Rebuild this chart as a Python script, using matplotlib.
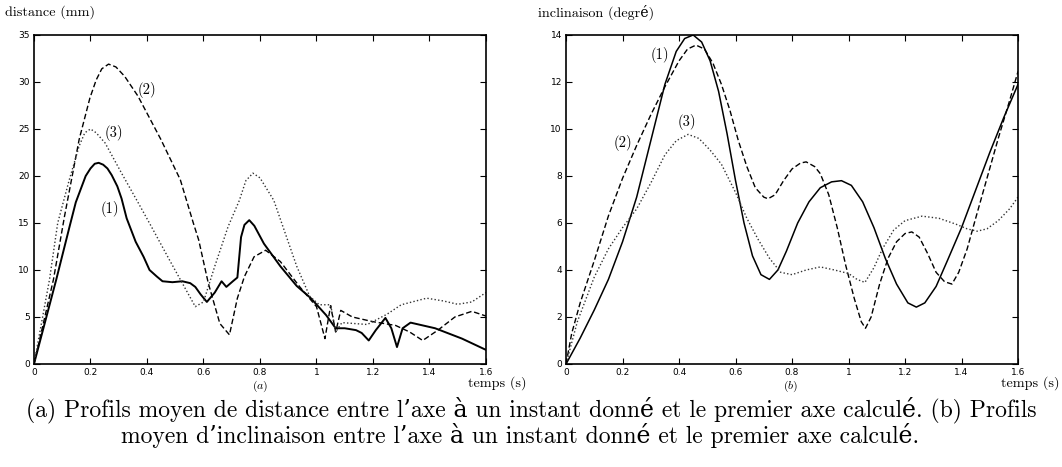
import matplotlib
matplotlib.use('Agg')
import matplotlib.pyplot as plt

plt.rcParams['mathtext.fontset'] = 'cm'

# (a) distance profiles (mm)
dist_x1 = [0, 0.079, 0.125, 0.148, 0.183, 0.2, 0.215, 0.229, 0.245, 0.26, 0.275, 0.295, 0.31, 0.328,
           0.36, 0.388, 0.409, 0.435, 0.455, 0.49, 0.525, 0.553, 0.571, 0.59, 0.612, 0.64, 0.664,
           0.681, 0.704, 0.72, 0.733, 0.745, 0.762, 0.78, 0.814, 0.872, 0.93, 0.98, 1.034, 1.068,
           1.10, 1.14, 1.16, 1.185, 1.21, 1.244, 1.265, 1.285, 1.305, 1.333, 1.42, 1.515, 1.6]
dist_y1 = [0, 9.0, 14.5, 17.2, 20.0, 20.8, 21.3, 21.4, 21.2, 20.8, 20.1, 18.9, 17.6, 15.5,
           13.0, 11.4, 10.0, 9.3, 8.8, 8.7, 8.8, 8.6, 8.2, 7.4, 6.6, 7.6, 8.8,
           8.2, 8.8, 9.2, 13.5, 14.8, 15.3, 14.7, 12.8, 10.4, 8.3, 7.0, 5.2, 3.8,
           3.8, 3.6, 3.3, 2.5, 3.6, 4.9, 3.8, 1.8, 3.8, 4.4, 3.8, 2.7, 1.5]

dist_x2 = [0, 0.069, 0.108, 0.16, 0.198, 0.22, 0.24, 0.264, 0.29, 0.321, 0.368, 0.449, 0.518,
           0.564, 0.583, 0.617, 0.658, 0.692, 0.72, 0.745, 0.779, 0.82, 0.872, 0.941, 1.0, 1.03,
           1.05, 1.068, 1.086, 1.127, 1.2, 1.28, 1.33, 1.376, 1.43, 1.49, 1.55, 1.6]
dist_y2 = [0, 9.0, 15.7, 23.9, 28.3, 30.2, 31.4, 31.9, 31.6, 30.6, 28.5, 23.9, 19.6,
           15.0, 13.2, 8.6, 4.3, 3.1, 7.0, 9.3, 11.4, 12.1, 10.9, 8.2, 6.1, 2.7,
           6.2, 3.4, 5.7, 5.0, 4.5, 4.1, 3.4, 2.5, 3.6, 5.0, 5.6, 5.1]

dist_x3 = [0, 0.055, 0.084, 0.125, 0.16, 0.18, 0.2, 0.22, 0.252, 0.31, 0.368, 0.414, 0.479, 0.525,
           0.571, 0.6, 0.64, 0.687, 0.727, 0.75, 0.775, 0.8, 0.849, 0.93, 0.976, 1.01, 1.05, 1.068,
           1.09, 1.18, 1.25, 1.3, 1.39, 1.45, 1.5, 1.55, 1.6]
dist_y3 = [0, 9.0, 15.0, 19.6, 23.2, 24.6, 25.0, 24.6, 23.5, 20.3, 17.2, 14.7, 11.1, 8.6,
           6.1, 6.6, 10.4, 14.6, 17.4, 19.5, 20.3, 19.8, 17.4, 10.4, 7.2, 6.3, 6.3, 3.4,
           4.4, 4.2, 5.3, 6.3, 7.0, 6.7, 6.35, 6.6, 7.6]

# (b) inclination profiles (degrees)
incl_x1 = [0, 0.05, 0.1, 0.15, 0.2, 0.25, 0.3, 0.35, 0.39, 0.42, 0.45, 0.48, 0.51, 0.54, 0.57,
           0.6, 0.63, 0.66, 0.69, 0.72, 0.75, 0.78, 0.82, 0.86, 0.9, 0.94, 0.975, 1.01, 1.05,
           1.09, 1.13, 1.17, 1.21, 1.24, 1.27, 1.31, 1.35, 1.4, 1.45, 1.5, 1.55, 1.6]
incl_y1 = [0, 1.1, 2.3, 3.6, 5.2, 7.1, 9.5, 11.9, 13.3, 13.85, 14.0, 13.7, 12.9, 11.6, 9.8,
           7.8, 6.0, 4.6, 3.8, 3.6, 4.0, 4.8, 6.0, 6.9, 7.5, 7.75, 7.8, 7.6, 6.9,
           5.8, 4.5, 3.4, 2.6, 2.42, 2.6, 3.3, 4.4, 5.8, 7.4, 9.0, 10.5, 11.9]

incl_x2 = [0, 0.02, 0.05, 0.1, 0.15, 0.2, 0.25, 0.3, 0.35, 0.4, 0.43, 0.46, 0.49, 0.52, 0.55,
           0.58, 0.61, 0.64, 0.67, 0.7, 0.715, 0.74, 0.77, 0.8, 0.83, 0.85, 0.88, 0.9, 0.93,
           0.96, 0.99, 1.02, 1.045, 1.06, 1.08, 1.11, 1.14, 1.17, 1.2, 1.224, 1.25, 1.28, 1.31,
           1.34, 1.366, 1.39, 1.42, 1.45, 1.49, 1.53, 1.57, 1.6]
incl_y2 = [0, 1.3, 2.6, 4.4, 6.3, 7.9, 9.3, 10.6, 11.8, 12.9, 13.4, 13.57, 13.4, 12.8, 11.9,
           10.8, 9.5, 8.4, 7.5, 7.1, 7.03, 7.2, 7.8, 8.3, 8.55, 8.6, 8.4, 8.1, 7.2,
           5.8, 4.2, 2.8, 1.8, 1.52, 2.0, 3.4, 4.5, 5.2, 5.55, 5.62, 5.4, 4.7, 3.9,
           3.5, 3.4, 3.9, 4.9, 6.2, 7.9, 9.6, 11.2, 12.45]

incl_x3 = [0, 0.04, 0.1, 0.15, 0.2, 0.25, 0.3, 0.35, 0.39, 0.432, 0.47, 0.51, 0.55, 0.6, 0.64,
           0.68, 0.72, 0.76, 0.8, 0.85, 0.9, 0.95, 1.0, 1.03, 1.058, 1.09, 1.12, 1.16, 1.2,
           1.26, 1.32, 1.38, 1.42, 1.455, 1.49, 1.53, 1.57, 1.6]
incl_y3 = [0, 1.8, 3.7, 4.9, 5.8, 6.6, 7.7, 8.9, 9.5, 9.77, 9.6, 9.1, 8.5, 7.3, 6.2,
           5.3, 4.5, 3.9, 3.8, 4.0, 4.13, 4.0, 3.85, 3.6, 3.47, 4.1, 4.9, 5.7, 6.1,
           6.29, 6.2, 5.95, 5.75, 5.65, 5.75, 6.1, 6.6, 7.1]

caption_1 = "(a) Profils moyen de distance entre l\u2019axe \u00e0 un instant donn\u00e9 et le premier axe calcul\u00e9. (b) Profils"
caption_2 = "moyen d\u2019inclinaison entre l\u2019axe \u00e0 un instant donn\u00e9 et le premier axe calcul\u00e9."

serif = ['cmr10', 'DejaVu Serif']
dash = (0, (4, 2))
dot = (0, (1, 1.6))

fig = plt.figure(figsize=(10.62, 4.67), dpi=100)
ax1 = fig.add_axes([0.032, 0.2206, 0.4256, 0.7045])
ax2 = fig.add_axes([0.533, 0.2206, 0.4256, 0.7045])

ax1.plot(dist_x1, dist_y1, color='black', lw=1.4, ls='-')
ax1.plot(dist_x2, dist_y2, color='black', lw=1.0, ls=dash)
ax1.plot(dist_x3, dist_y3, color='#333333', lw=1.0, ls=dot)
ax1.set_ylim(0, 35)
ax1.set_yticks([0, 5, 10, 15, 20, 25, 30, 35])

ax2.plot(incl_x1, incl_y1, color='black', lw=1.1, ls='-')
ax2.plot(incl_x2, incl_y2, color='black', lw=1.0, ls=dash)
ax2.plot(incl_x3, incl_y3, color='#333333', lw=1.0, ls=dot)
ax2.set_ylim(0, 14)
ax2.set_yticks([0, 2, 4, 6, 8, 10, 12, 14])

for ax in (ax1, ax2):
    ax.set_xlim(0, 1.6)
    ax.set_xticks([0, 0.2, 0.4, 0.6, 0.8, 1, 1.2, 1.4, 1.6])
    ax.set_xticklabels(['0', '0.2', '0.4', '0.6', '0.8', '1', '1.2', '1.4', '1.6'])
    ax.tick_params(direction='in', top=True, right=True, length=4, width=0.8,
                   labelsize=6.5, pad=3, colors='black')
    for s in ax.spines.values():
        s.set_linewidth(1.2)

# curve labels
ax1.text(0.40, 29.1, '(2)', family=serif, fontsize=10.5, ha='center', va='center')
ax1.text(0.283, 24.6, '(3)', family=serif, fontsize=10.5, ha='center', va='center')
ax1.text(0.269, 16.5, '(1)', family=serif, fontsize=10.5, ha='center', va='center')
ax2.text(0.332, 13.15, '(1)', family=serif, fontsize=10.5, ha='center', va='center')
ax2.text(0.20, 9.4, '(2)', family=serif, fontsize=10.5, ha='center', va='center')
ax2.text(0.427, 10.3, '(3)', family=serif, fontsize=10.5, ha='center', va='center')

# axis titles
fig.text(5 / 1062, 1 - 12 / 467, 'distance (mm)', family=serif, fontsize=10.2, ha='left', va='center')
fig.text(538 / 1062, 1 - 12 / 467, 'inclinaison (degr\u00e9)', family=serif, fontsize=10.2, ha='left', va='center')
fig.text(497 / 1062, 1 - 383 / 467, 'temps (s)', family=serif, fontsize=10.2, ha='center', va='center')
fig.text(1030 / 1062, 1 - 383 / 467, 'temps (s)', family=serif, fontsize=10.2, ha='center', va='center')
fig.text(260 / 1062, 1 - 386 / 467, '($a$)', family=serif, fontsize=8.5, ha='center', va='center')
fig.text(791 / 1062, 1 - 386 / 467, '($b$)', family=serif, fontsize=8.5, ha='center', va='center')

fig.text(531 / 1062, 1 - 410 / 467, caption_1, family=serif, fontsize=17, ha='center', va='center')
fig.text(520 / 1062, 1 - 435 / 467, caption_2, family=serif, fontsize=17, ha='center', va='center')

fig.savefig('out.png', dpi=100)
